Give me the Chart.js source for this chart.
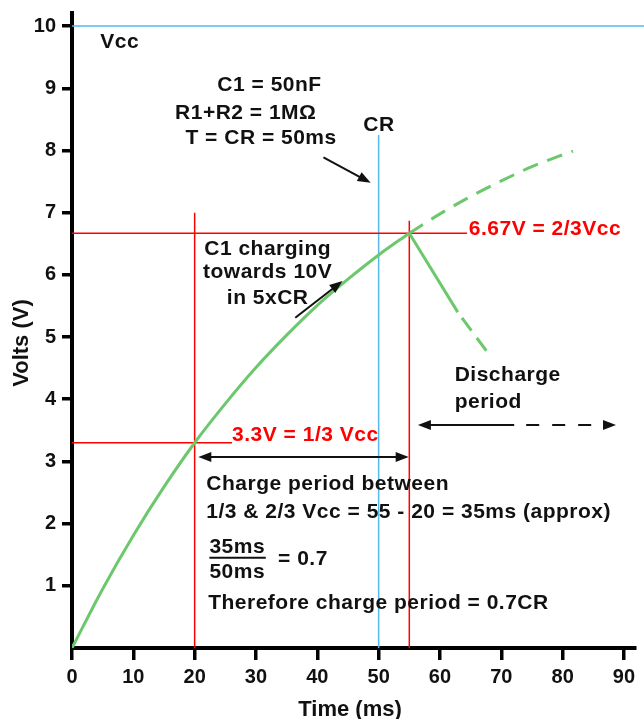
<!DOCTYPE html>
<html>
<head>
<meta charset="utf-8">
<script src="https://cdn.jsdelivr.net/npm/chart.js@4.4.1/dist/chart.umd.min.js"></script>
<style>
html,body{margin:0;padding:0;background:#fff;}
canvas{display:block;}
</style>
</head>
<body>
<canvas id="c" width="644" height="719"></canvas>
<script>
// ---- data ----
const xTicks = [0,10,20,30,40,50,60,70,80,90];
const yTicks = [1,2,3,4,5,6,7,8,9,10];

const chargeT = [0,5,10,15,20,25,30,35,40,45,50,55];
const chargeV = [0,0.95,1.81,2.59,3.30,3.93,4.51,5.03,5.51,5.93,6.32,6.67];

const extendT = [55,60,65,70,75,80,81.7];
const extendV = [6.67,6.98,7.26,7.51,7.74,7.93,7.99];

const dischargeT = [55,62.9];
const dischargeV = [6.67,5.40];
const dischargeDashT = [62.9,68.3];
const dischargeDashV = [5.40,4.68];

const vccLevel = 10;
const upperLevel = 6.67;
const lowerLevel = 3.3;
const crTime = 50;
const lowerTime = 20;
const upperTime = 55;

function pts(xs, ys){ return xs.map((x,i)=>({x:x, y:ys[i]})); }

const GREEN = '#6cc86c';
const RED = '#ff0000';
const BLUE = '#55b8f0';
const FONT = "'Liberation Sans', Arial, sans-serif";

// annotation texts (data coordinates)
const texts = [
  {t:4.6, v:9.74, s:'Vcc', c:'#111', a:'left'},
  {t:23.7, v:9.05, s:'C1 = 50nF', c:'#111', a:'left'},
  {t:16.8, v:8.6, s:'R1+R2 = 1M\u03A9', c:'#111', a:'left'},
  {t:18.5, v:8.2, s:'T = CR = 50ms', c:'#111', a:'left'},
  {t:47.5, v:8.41, s:'CR', c:'#111', a:'left'},
  {t:31.9, v:6.41, s:'C1 charging', c:'#111', a:'center'},
  {t:31.9, v:6.05, s:'towards 10V', c:'#111', a:'center'},
  {t:31.9, v:5.63, s:'in 5xCR', c:'#111', a:'center'},
  {t:64.7, v:6.74, s:'6.67V = 2/3Vcc', c:RED, a:'left'},
  {t:62.4, v:4.39, s:'Discharge', c:'#111', a:'left'},
  {t:62.4, v:3.95, s:'period', c:'#111', a:'left'},
  {t:26.1, v:3.42, s:'3.3V = 1/3 Vcc', c:RED, a:'left'},
  {t:21.9, v:2.64, s:'Charge period between', c:'#111', a:'left'},
  {t:21.9, v:2.19, s:'1/3 & 2/3 Vcc = 55 - 20 = 35ms (approx)', c:'#111', a:'left'},
  {t:22.4, v:1.62, s:'35ms', c:'#111', a:'left'},
  {t:22.4, v:1.22, s:'50ms', c:'#111', a:'left'},
  {t:33.6, v:1.43, s:'= 0.7', c:'#111', a:'left'},
  {t:22.2, v:0.72, s:'Therefore charge period = 0.7CR', c:'#111', a:'left'}
];
// arrows: from -> to, heads at start/end
const arrows = [
  {t1:41.0, v1:7.89, t2:48.7, v2:7.48, hs:false, he:true},
  {t1:36.4, v1:5.31, t2:44.1, v2:5.90, hs:false, he:true},
  {t1:20.6, v1:3.07, t2:54.9, v2:3.07, hs:true, he:true},
  {t1:56.4, v1:3.585, t2:72.1, v2:3.585, hs:true, he:false},
  {t1:72.1, v1:3.585, t2:88.7, v2:3.585, hs:false, he:true, dash:true}
];
const fractionBar = {t1:22.4, t2:31.6, v:1.45};

function head(ctx, x1, y1, x2, y2){
  const ang = Math.atan2(y2-y1, x2-x1);
  const L = 13, W = 5;
  ctx.beginPath();
  ctx.moveTo(x2, y2);
  ctx.lineTo(x2 - L*Math.cos(ang) + W*Math.sin(ang), y2 - L*Math.sin(ang) - W*Math.cos(ang));
  ctx.lineTo(x2 - L*Math.cos(ang) - W*Math.sin(ang), y2 - L*Math.sin(ang) + W*Math.cos(ang));
  ctx.closePath();
  ctx.fill();
}

const annot = {
  id:'annot',
  afterDatasetsDraw(chart){
    const ctx = chart.ctx, xs = chart.scales.x, ys = chart.scales.y;
    ctx.save();
    ctx.font = "bold 21px " + FONT;
    try { ctx.letterSpacing = '0.5px'; } catch(e) {}
    ctx.textBaseline = 'middle';
    texts.forEach(o=>{
      ctx.fillStyle = o.c;
      ctx.textAlign = o.a;
      ctx.fillText(o.s, xs.getPixelForValue(o.t), ys.getPixelForValue(o.v));
    });
    try { ctx.letterSpacing = '0px'; } catch(e) {}
    ctx.strokeStyle = '#111'; ctx.fillStyle = '#111'; ctx.lineWidth = 2;
    arrows.forEach(a=>{
      const x1 = xs.getPixelForValue(a.t1), y1 = ys.getPixelForValue(a.v1);
      const x2 = xs.getPixelForValue(a.t2), y2 = ys.getPixelForValue(a.v2);
      const ang = Math.atan2(y2-y1, x2-x1);
      const sx = a.hs ? x1 + 10*Math.cos(ang) : x1, sy = a.hs ? y1 + 10*Math.sin(ang) : y1;
      const ex = a.he ? x2 - 10*Math.cos(ang) : x2, ey = a.he ? y2 - 10*Math.sin(ang) : y2;
      ctx.setLineDash(a.dash ? [13,13] : []);
      if (a.dash) ctx.lineDashOffset = -12;
      ctx.beginPath(); ctx.moveTo(sx, sy); ctx.lineTo(ex, ey); ctx.stroke();
      ctx.setLineDash([]); ctx.lineDashOffset = 0;
      if (a.he) head(ctx, x1, y1, x2, y2);
      if (a.hs) head(ctx, x2, y2, x1, y1);
    });
    // fraction bar
    ctx.lineWidth = 2;
    ctx.beginPath();
    const fy = ys.getPixelForValue(fractionBar.v);
    ctx.moveTo(xs.getPixelForValue(fractionBar.t1), fy);
    ctx.lineTo(xs.getPixelForValue(fractionBar.t2), fy);
    ctx.stroke();
    // axis titles
    ctx.fillStyle = '#111';
    ctx.font = "bold 22px " + FONT;
    ctx.textAlign = 'center';
    ctx.fillText('Time (ms)', 350, 710);
    ctx.translate(22, 343);
    ctx.rotate(-Math.PI/2);
    ctx.fillText('Volts (V)', 0, 0);
    ctx.restore();
  }
};

const lineDs = (data, color, width, extra) => Object.assign({
  data: data, borderColor: color, borderWidth: width, pointRadius: 0, fill:false, tension:0
}, extra||{});

new Chart(document.getElementById('c'), {
  type: 'line',
  data: {
    datasets: [
      lineDs(pts(chargeT, chargeV), GREEN, 3, {cubicInterpolationMode:'monotone'}),
      lineDs(pts(extendT, extendV), GREEN, 3, {cubicInterpolationMode:'monotone', borderDash:[16,10]}),
      lineDs(pts(dischargeT, dischargeV), GREEN, 3),
      lineDs(pts(dischargeDashT, dischargeDashV), GREEN, 3, {borderDash:[16,9], borderDashOffset:18}),
      lineDs([{x:lowerTime,y:0},{x:lowerTime,y:7.0}], RED, 1.5),
      lineDs([{x:upperTime,y:0},{x:upperTime,y:6.87}], RED, 1.5),
      lineDs([{x:0,y:upperLevel},{x:64.4,y:upperLevel}], RED, 1.5),
      lineDs([{x:0,y:lowerLevel},{x:26.1,y:lowerLevel}], RED, 1.5),
      lineDs([{x:crTime,y:0},{x:crTime,y:8.25}], BLUE, 1.5),
      lineDs([{x:0,y:vccLevel},{x:93.5,y:vccLevel}], BLUE, 1.5, {clip:false})
    ]
  },
  options: {
    responsive:false, animation:false, devicePixelRatio:1,
    layout:{padding:{top:13, right:9, left:0, bottom:0}},
    plugins:{legend:{display:false}, tooltip:{enabled:false}},
    scales:{
      x:{
        type:'linear', min:0, max:91.8,
        afterBuildTicks(s){ s.ticks = xTicks.map(v=>({value:v})); },
        afterFit(s){ s.height = 71; s.paddingLeft = 0; s.paddingRight = 0; },
        grid:{drawOnChartArea:false, color:'#000', lineWidth:3.5, tickLength:12},
        border:{color:'#000', width:4},
        ticks:{color:'#111', font:{family:FONT, size:20, weight:'bold'}, padding:5, maxRotation:0, autoSkip:false}
      },
      y:{
        type:'linear', min:0, max:10.21,
        afterBuildTicks(s){ s.ticks = yTicks.map(v=>({value:v})); },
        afterFit(s){ s.width = 72; s.paddingTop = 0; s.paddingBottom = 0; },
        grid:{drawOnChartArea:false, color:'#000', lineWidth:3.5, tickLength:10},
        border:{color:'#000', width:4},
        ticks:{color:'#111', font:{family:FONT, size:20, weight:'bold'}, padding:6, autoSkip:false}
      }
    }
  },
  plugins:[annot]
});
</script>
</body>
</html>
